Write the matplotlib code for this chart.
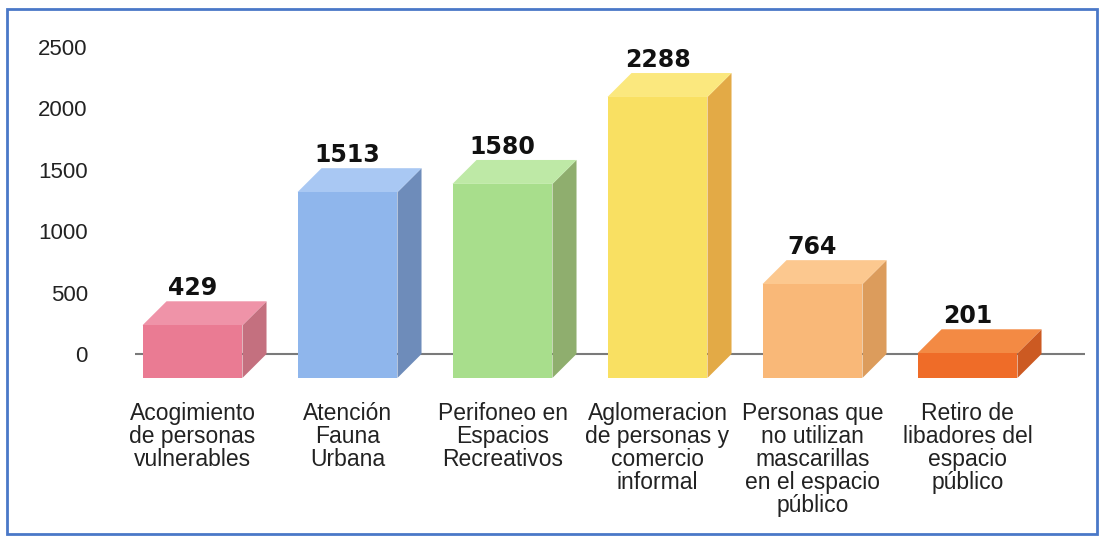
import numpy as np
import matplotlib.pyplot as plt
from matplotlib.patches import Polygon, Rectangle

# datos
categorias = ["Acogimiento\nde personas\nvulnerables",
              "Atención\nFauna\nUrbana",
              "Perifoneo en\nEspacios\nRecreativos",
              "Aglomeracion\nde personas y\ncomercio\ninformal",
              "Personas que\nno utilizan\nmascarillas\nen el espacio\npúblico",
              "Retiro de\nlibadores del\nespacio\npúblico"]
valores = [429, 1513, 1580, 2288, 764, 201]
yticks = [0, 500, 1000, 1500, 2000, 2500]

# colores: frente, tapa, lado
frente = ["#EA7B93", "#8FB6EC", "#A8DE8C", "#F9E062", "#F9B878", "#EF6C28"]
tapa = ["#EF93A8", "#A9C8F3", "#BEE9A6", "#FBE87E", "#FCC88F", "#F38A44"]
lado = ["#C4707F", "#6E8CBA", "#8FAE6E", "#E3AA46", "#DC9C5C", "#CC5A22"]

W, H = 1106, 537
fig = plt.figure(figsize=(W / 100, H / 100), dpi=100)
# ejes: de x=135 a 1085 px, y de 40 a 380 px
ax = fig.add_axes([135 / W, 1 - 380 / H, 950 / W, 340 / H])
ax.set_xlim(-0.371, 5.758)
ax.set_ylim(-212, 2557)

ancho = 0.645
dx = 0.155
dy = 195

ax.axhline(0, color="#7a7a7a", lw=1.5, zorder=1)

for i, v in enumerate(valores):
    x0 = i - ancho / 2
    x1 = i + ancho / 2
    # lado
    ax.add_patch(Polygon([(x1, -dy), (x1 + dx, 0), (x1 + dx, v), (x1, v - dy)],
                         closed=True, fc=lado[i], ec="none", zorder=2))
    # tapa
    ax.add_patch(Polygon([(x0, v - dy), (x1, v - dy), (x1 + dx, v), (x0 + dx, v)],
                         closed=True, fc=tapa[i], ec="none", zorder=2))
    # frente
    ax.add_patch(Rectangle((x0, -dy), ancho, v, fc=frente[i], ec="none", zorder=3))
    ax.annotate(str(v), (i, v), xytext=(0, 1), textcoords="offset points",
                ha="center", va="bottom", fontsize=17, fontweight="bold",
                family="DejaVu Sans", color="#111111")
    ax.text(i, -395, categorias[i], ha="center", va="top", fontsize=16.5,
            family="Liberation Sans", color="#222222", linespacing=1.0)

ax.set_yticks(yticks)
ax.set_yticklabels([str(t) for t in yticks], fontsize=16, family="Liberation Sans",
                   color="#222222")
ax.tick_params(axis="y", length=0, pad=34)
ax.set_xticks([])
for s in ax.spines.values():
    s.set_visible(False)
ax.patch.set_alpha(0)

# marco azul
fig.patches.append(Rectangle((7 / W, 3 / H), 1090 / W, 525 / H, transform=fig.transFigure,
                             fill=False, ec="#4A78C8", lw=2))

fig.savefig("out.png", dpi=100)
